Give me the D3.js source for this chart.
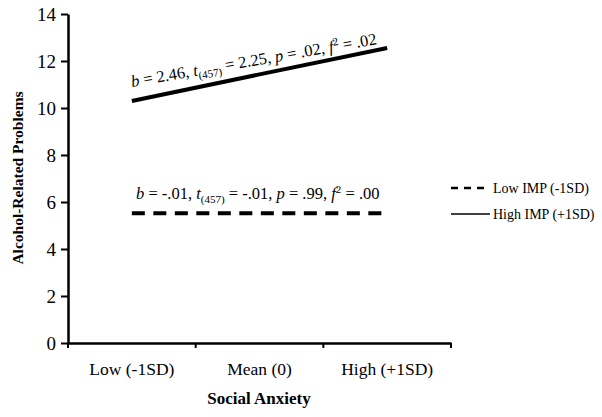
<!DOCTYPE html>
<html><head><meta charset="utf-8">
<script src="https://cdn.jsdelivr.net/npm/d3@7"></script>
<style>body{margin:0;background:#fff}svg text{font-family:"Liberation Serif","DejaVu Serif","Times New Roman",serif !important;fill:#000}</style>
</head><body><svg id="c" width="602" height="417"></svg>
<script>
const categories = ["Low (-1SD)", "Mean (0)", "High (+1SD)"];
const lowIMP = [5.52, 5.52, 5.52];
const highIMP = [10.30, 11.43, 12.55];
const yTicks = [0, 2, 4, 6, 8, 10, 12, 14];
const seriesNames = ["Low IMP (-1SD)", "High IMP (+1SD)"];

const svg = d3.select("#c");
const x = d3.scaleBand().domain(categories).range([68, 451]);
const y = d3.scaleLinear().domain([0, 14]).range([343, 14]);

// Y axis
const ya = svg.append("g").attr("transform", "translate(68,0)")
  .call(d3.axisLeft(y).tickValues(yTicks).tickSize(7).tickPadding(5).tickSizeOuter(0));
ya.select(".domain").attr("stroke", "#000").attr("stroke-width", 2.5);
ya.selectAll(".tick line").attr("stroke-width", 2);
ya.selectAll(".tick text").attr("font-size", 19).attr("dy", "0.34em");

// X axis
const xa = svg.append("g").attr("transform", "translate(0,343)")
  .call(d3.axisBottom(x).tickSize(0).tickPadding(20));
xa.select(".domain").attr("stroke", "#000").attr("stroke-width", 2.5);
xa.selectAll(".tick text").attr("font-size", 17.5);
const bounds = [...categories.map(c => x(c)), x.range()[1]];
xa.selectAll(".bt").data(bounds).enter().append("line")
  .attr("x1", d => d).attr("x2", d => d).attr("y1", 0).attr("y2", 5)
  .attr("stroke", "#000").attr("stroke-width", 2);

const cx = c => x(c) + x.bandwidth() / 2;
const line = d3.line().x((d, i) => cx(categories[i])).y(d => y(d));

svg.append("path").datum(lowIMP).attr("d", line).attr("fill", "none")
  .attr("stroke", "#000").attr("stroke-width", 4).attr("stroke-dasharray", "13,8.5");
svg.append("path").datum(highIMP).attr("d", line).attr("fill", "none")
  .attr("stroke", "#000").attr("stroke-width", 4);

// Annotations
function annot(g, parts) {
  const t = g.append("text").attr("font-size", 16.5);
  parts.forEach(p => {
    const s = t.append("tspan").text(p[0]);
    if (p[1] === "i") s.attr("font-style", "italic");
    if (p[1] === "sub") s.attr("font-size", 11).attr("dy", 4);
    if (p[1] === "sup") s.attr("font-size", 11).attr("dy", -6);
    if (p[2]) s.attr("dy", p[2]);
  });
  return t;
}
const ang = Math.atan2(y(highIMP[2]) - y(highIMP[0]), cx(categories[2]) - cx(categories[0])) * 180 / Math.PI;
const g1 = svg.append("g").attr("transform", `translate(132,87) rotate(${ang + 1.8})`);
annot(g1, [["b", "i"], [" = 2.46, "], ["t", "i"], ["(457)", "sub"], [" = 2.25, ", null, -4], ["p", "i"], [" = .02, "], ["f", "i"], ["2", "sup"], [" = .02", null, 6]]);
const g2 = svg.append("g").attr("transform", "translate(136,199)");
annot(g2, [["b", "i"], [" = -.01, "], ["t", "i"], ["(457)", "sub"], [" = -.01, ", null, -4], ["p", "i"], [" = .99, "], ["f", "i"], ["2", "sup"], [" = .00", null, 6]]);

// Legend
const lg = svg.append("g");
seriesNames.forEach((n, i) => {
  const yy = 188 + i * 26;
  lg.append("line").attr("x1", 451).attr("x2", 490).attr("y1", yy).attr("y2", yy)
    .attr("stroke", "#000").attr("stroke-width", i === 0 ? 2.5 : 1.5)
    .attr("stroke-dasharray", i === 0 ? "7,6" : null);
  lg.append("text").attr("x", 493).attr("y", yy + 5).attr("font-size", 14).text(n);
});

// Axis titles
svg.append("text").attr("transform", "translate(23,178) rotate(-90)").attr("text-anchor", "middle")
  .attr("font-size", 15.5).attr("font-weight", "bold").text("Alcohol-Related Problems");
svg.append("text").attr("x", 259).attr("y", 404).attr("text-anchor", "middle")
  .attr("font-size", 17).attr("font-weight", "bold").text("Social Anxiety");
</script></body></html>
